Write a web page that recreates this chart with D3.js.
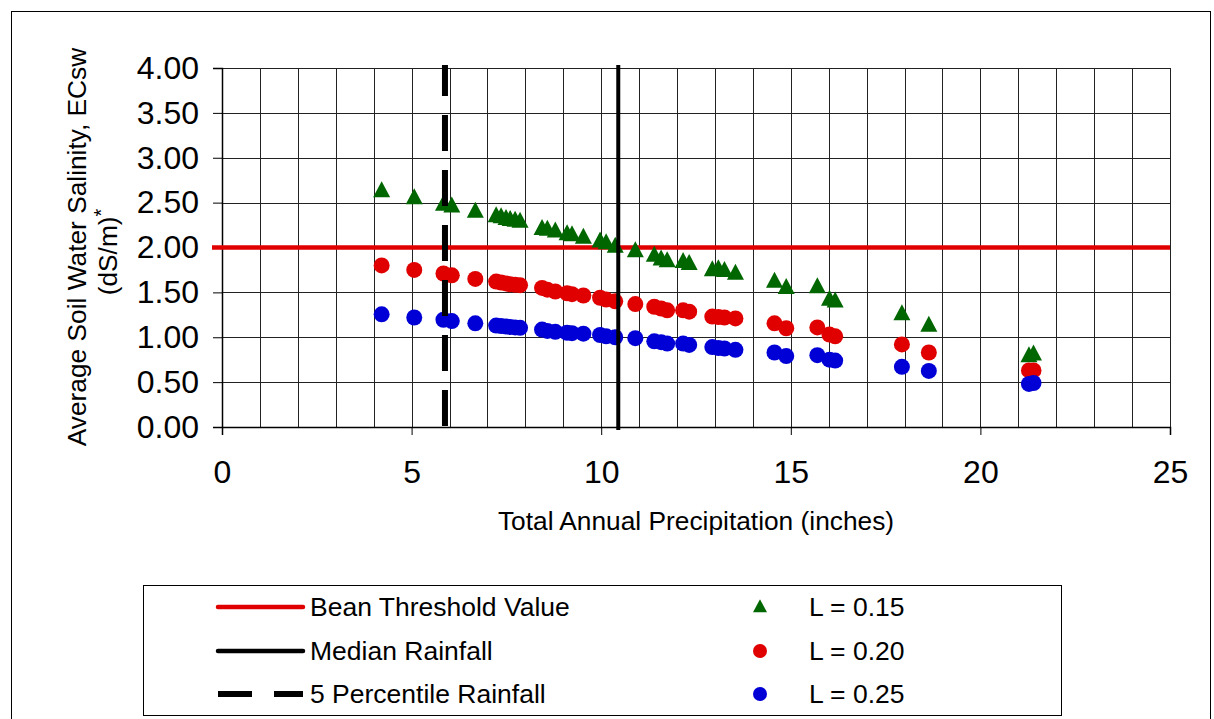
<!DOCTYPE html>
<html><head><meta charset="utf-8">
<script src="https://cdn.jsdelivr.net/npm/d3@7/dist/d3.min.js"></script>
<style>
body{margin:0;background:#fff;}
svg{display:block;}
text{font-family:"Liberation Sans",Arial,Helvetica,sans-serif;fill:#000;}
</style>
</head><body>
<svg id="chart" width="1214" height="719"></svg>
<script>
// ---- data ----
const precip = [4.21,5.07,5.84,6.06,6.68,7.23,7.36,7.49,7.60,7.73,7.86,8.44,8.58,8.79,9.10,9.23,9.53,9.97,10.13,10.37,10.90,11.40,11.58,11.74,12.16,12.32,12.93,13.09,13.25,13.54,14.57,14.88,15.70,16.02,16.17,17.93,18.64,21.28,21.40];
const ecL015 = [2.62,2.54,2.47,2.45,2.39,2.34,2.33,2.31,2.30,2.29,2.28,2.20,2.19,2.17,2.14,2.13,2.10,2.06,2.04,2.00,1.95,1.90,1.86,1.84,1.83,1.81,1.74,1.75,1.73,1.70,1.61,1.54,1.55,1.41,1.39,1.25,1.12,0.78,0.80];
const ecL020 = [1.80,1.75,1.71,1.69,1.65,1.62,1.61,1.60,1.59,1.585,1.58,1.55,1.53,1.51,1.49,1.48,1.465,1.44,1.42,1.40,1.37,1.34,1.32,1.30,1.30,1.285,1.23,1.225,1.22,1.21,1.155,1.10,1.11,1.03,1.01,0.92,0.83,0.63,0.63];
const ecL025 = [1.255,1.22,1.195,1.18,1.155,1.13,1.125,1.12,1.115,1.11,1.105,1.085,1.07,1.06,1.05,1.045,1.04,1.025,1.01,1.00,0.99,0.955,0.945,0.93,0.93,0.915,0.89,0.88,0.875,0.86,0.83,0.79,0.80,0.75,0.74,0.67,0.625,0.48,0.49];
const beanThreshold = 2.0;
const medianRainfall = 10.45;
const pct5Rainfall = 5.88;
const xTickValues = [0,5,10,15,20,25];
const yTickValues = [0,0.5,1,1.5,2,2.5,3,3.5,4];
const lineLegendLabels = ["Bean Threshold Value","Median Rainfall","5 Percentile Rainfall"];
const seriesLegendLabels = ["L = 0.15","L = 0.20","L = 0.25"];
const xTitle = "Total Annual Precipitation (inches)";
const yTitleLine1 = "Average Soil Water Salinity, ECsw";
const yTitleLine2 = "(dS/m)";

// ---- styling ----
const GREEN = "#006600", RED = "#e00000", BLUE = "#0000d6";
const FONT_TICK = 32, FONT_TITLE = 26.3, FONT_LEGEND = 26.5;

const svg = d3.select("#chart");
const x = d3.scaleLinear().domain([0,25]).range([222,1170]);
const y = d3.scaleLinear().domain([0,4]).range([427,68]);

// triangle marker (centroid centred), w wide, h tall
const triangle = (w,h) => ({draw(ctx){ctx.moveTo(0,-2*h/3);ctx.lineTo(w/2,h/3);ctx.lineTo(-w/2,h/3);ctx.closePath();}});

// outer frame
svg.append("rect").attr("x",11.5).attr("y",11.5).attr("width",1199).attr("height",730)
  .attr("fill","none").attr("stroke","#000").attr("stroke-width",1);

// gridlines
const grid = svg.append("g");
grid.selectAll("line.v").data(d3.range(1,26)).join("line")
  .attr("x1",d=>Math.round(x(d))+0.5).attr("x2",d=>Math.round(x(d))+0.5)
  .attr("y1",y(4)).attr("y2",y(0)).attr("stroke","#222").attr("stroke-width",1);
grid.selectAll("line.h").data(d3.range(0.5,4.01,0.5)).join("line")
  .attr("x1",x(0)).attr("x2",x(25))
  .attr("y1",d=>Math.round(y(d))+0.5).attr("y2",d=>Math.round(y(d))+0.5)
  .attr("stroke","#222").attr("stroke-width",1);

// axes
const yAxis = svg.append("g").attr("transform",`translate(${x(0)},0)`)
  .call(d3.axisLeft(y).tickValues(yTickValues).tickFormat(d3.format(".2f")).tickSize(9).tickPadding(14));
const xAxis = svg.append("g").attr("transform",`translate(0,${y(0)})`)
  .call(d3.axisBottom(x).tickValues(xTickValues).tickFormat(d3.format("d")).tickSize(8).tickPadding(25));
[yAxis,xAxis].forEach(a=>{
  a.select(".domain").attr("stroke","#000").attr("stroke-width",1.5);
  a.selectAll(".tick line").attr("stroke","#000");
  a.selectAll("text").attr("font-size",FONT_TICK).attr("font-family",'"Liberation Sans",Arial,sans-serif').attr("fill","#000");
});

// threshold line
svg.append("line").attr("x1",x(0)-10).attr("x2",x(25)).attr("y1",y(beanThreshold)).attr("y2",y(beanThreshold))
  .attr("stroke",RED).attr("stroke-width",4.5);

// points
svg.append("g").selectAll("path").data(precip.map((p,i)=>[p,ecL015[i]])).join("path")
  .attr("d",d3.symbol().type(triangle(17,16))).attr("transform",d=>`translate(${x(d[0])},${y(d[1])})`).attr("fill",GREEN);
svg.append("g").selectAll("circle").data(precip.map((p,i)=>[p,ecL020[i]])).join("circle")
  .attr("cx",d=>x(d[0])).attr("cy",d=>y(d[1])).attr("r",8).attr("fill",RED);
svg.append("g").selectAll("circle").data(precip.map((p,i)=>[p,ecL025[i]])).join("circle")
  .attr("cx",d=>x(d[0])).attr("cy",d=>y(d[1])).attr("r",8).attr("fill",BLUE);

// vertical rainfall lines
svg.append("line").attr("x1",x(medianRainfall)).attr("x2",x(medianRainfall)).attr("y1",y(4)-3).attr("y2",y(0)+3)
  .attr("stroke","#000").attr("stroke-width",4);
svg.append("line").attr("x1",x(pct5Rainfall)).attr("x2",x(pct5Rainfall)).attr("y1",y(4)-3).attr("y2",y(0)+3)
  .attr("stroke","#000").attr("stroke-width",6).attr("stroke-dasharray","36 19").attr("stroke-dashoffset",5);

// axis titles
svg.append("text").attr("x",(x(0)+x(25))/2).attr("y",530).attr("text-anchor","middle")
  .attr("font-size",FONT_TITLE).text(xTitle);
svg.append("text").attr("transform","translate(86,247) rotate(-90)").attr("text-anchor","middle")
  .attr("font-size",FONT_TITLE).text(yTitleLine1);
const yt2 = svg.append("text").attr("transform","translate(117,252) rotate(-90)").attr("text-anchor","middle")
  .attr("font-size",FONT_TITLE);
yt2.append("tspan").text(yTitleLine2);
yt2.append("tspan").attr("dy",-9).attr("font-size",20).text("*");

// legend
const lg = svg.append("g");
lg.append("rect").attr("x",143.5).attr("y",585.5).attr("width",918).attr("height",130)
  .attr("fill","#fff").attr("stroke","#000").attr("stroke-width",1);
const rowY = [607,651,694];
const lineStyles = [{c:RED,w:4.5,d:null},{c:"#000",w:4.5,d:null},{c:"#000",w:6,d:"34 22"}];
lineStyles.forEach((s,i)=>{
  const l = lg.append("line").attr("x1",218).attr("x2",303).attr("y1",rowY[i]).attr("y2",rowY[i])
    .attr("stroke",s.c).attr("stroke-width",s.w);
  if(s.d) l.attr("stroke-dasharray",s.d); else l.attr("stroke-linecap","round");
  lg.append("text").attr("x",310).attr("y",rowY[i]+9).attr("font-size",FONT_LEGEND).text(lineLegendLabels[i]);
  lg.append("text").attr("x",809).attr("y",rowY[i]+9).attr("font-size",FONT_LEGEND).text(seriesLegendLabels[i]);
});
lg.append("path").attr("d",d3.symbol().type(triangle(14,13))).attr("transform",`translate(760,${rowY[0]+1})`).attr("fill",GREEN);
lg.append("circle").attr("cx",760).attr("cy",rowY[1]).attr("r",7).attr("fill",RED);
lg.append("circle").attr("cx",760).attr("cy",rowY[2]).attr("r",7).attr("fill",BLUE);
</script>
</body></html>
